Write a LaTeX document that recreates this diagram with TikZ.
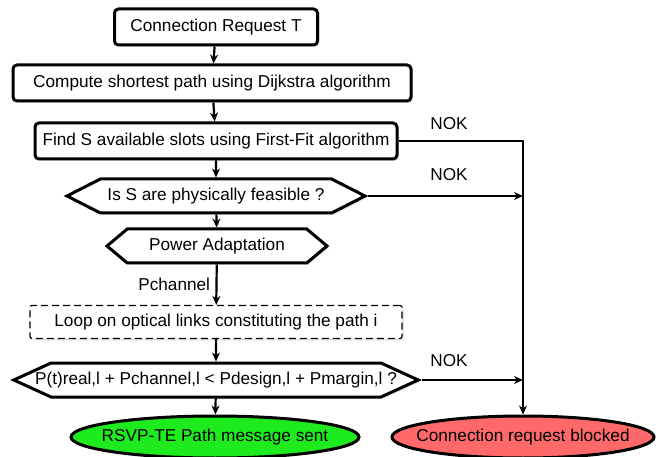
\documentclass[tikz,border=0pt]{standalone}
\usepackage{fontspec}
\setmainfont{Liberation Sans}
\usetikzlibrary{shapes.geometric,shapes.symbols,shadows,arrows.meta}
\definecolor{okgreen}{RGB}{30,235,30}
\definecolor{kored}{RGB}{255,105,105}
\newcommand{\boxline}{3pt}
\newcommand{\flowline}{2.2pt}

\begin{document}
\begin{tikzpicture}[x=1pt,y=-1pt,
  font=\fontsize{17.2}{21}\selectfont,
  box/.style={draw, line width=\boxline, rounded corners=4pt, fill=white, minimum height=36pt, inner sep=0pt,
    drop shadow={opacity=0.2,shadow xshift=2pt,shadow yshift=-2pt}},
  hexa/.style={draw, line width=\boxline, fill=white, shape=signal, signal to=west and east,
    minimum height=34pt, inner sep=0pt, drop shadow={opacity=0.2,shadow xshift=2pt,shadow yshift=-2pt}},
  loopbox/.style={draw, line width=1.2pt, dash pattern=on 7pt off 4pt, rounded corners=2pt, fill=white,
    minimum height=33pt, inner sep=0pt, drop shadow={opacity=0.2,shadow xshift=2pt,shadow yshift=-2pt}},
  endnode/.style={draw, line width=\boxline, ellipse, inner xsep=-30pt, inner ysep=0pt, minimum height=42pt},
  flow/.style={line width=\flowline, -{Stealth[length=9pt,width=8pt]}},
  nok/.style={inner sep=0pt}]
\useasboundingbox (0,0) rectangle (659,457);
\node[box, minimum width=203pt] (req) at (216,27) {Connection Request T};
\node[box, minimum width=398pt] (path) at (212,83) {Compute shortest path using Dijkstra algorithm};
\node[box, minimum width=362pt] (slots) at (216,141) {Find S available slots using First-Fit algorithm};
\node[hexa, minimum width=298pt, signal pointer angle=54] (feas) at (216,196) {Is S are physically feasible ?};
\node[hexa, minimum width=220pt, signal pointer angle=80] (power) at (217,246) {Power Adaptation};
\node[loopbox, minimum width=372pt] (loop) at (216,322) {Loop on optical links constituting the path i};
\node[hexa, inner xsep=-16pt, signal pointer angle=49] (cond) at (216,380) {P(t)real,l + Pchannel,l < Pdesign,l + Pmargin,l ?};
\node[endnode, fill=okgreen, minimum width=288pt] (sent) at (215,437) {RSVP-TE Path message sent};
\node[endnode, fill=kored, minimum width=262pt] (blocked) at (523,437) {Connection request blocked};
% main flow
\draw[flow] (req) -- (path);
\draw[flow] (path) -- (slots);
\draw[flow] (slots) -- (feas);
\draw[flow] (feas) -- (power);
\draw[flow] (power) -- node[left=2pt] (pch) {Pchannel} (loop);
\draw[flow] (loop) -- (cond);
\draw[flow] (cond) -- (sent);
% rejections
\draw[flow] (slots.east) -| (blocked.north);
\draw[flow] (feas.east) -- (feas.east -| blocked.north);
\draw[flow] (cond.east) -- (cond.east -| blocked.north);
\node[nok] (nok1) at (449,124) {NOK};
\node[nok] (nok2) at (449,175) {NOK};
\node[nok] (nok3) at (449,361) {NOK};
\end{tikzpicture}
\end{document}
